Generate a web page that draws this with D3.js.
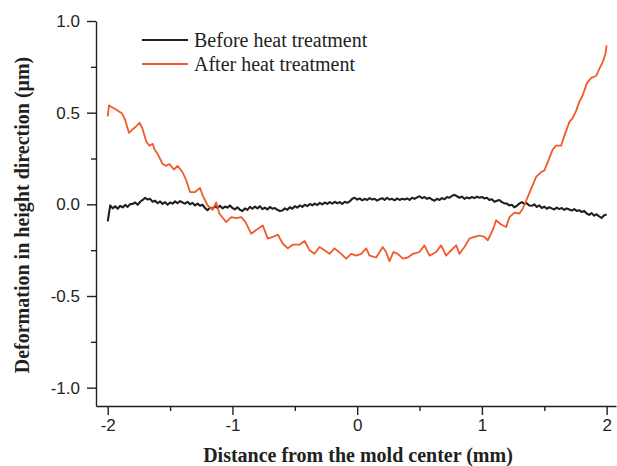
<!DOCTYPE html>
<html>
<head>
<meta charset="utf-8">
<script src="https://cdn.jsdelivr.net/npm/d3@7.9.0/dist/d3.min.js"></script>
<style>
  body { margin: 0; background: #fff; }
  .tick text { font-family: "Liberation Sans", Arial, sans-serif; font-size: 17px; fill: #231f20; }
  .title { font-family: "Liberation Serif", "Times New Roman", serif; font-weight: bold; font-size: 20px; fill: #231f20; }
  .legend text { font-family: "Liberation Serif", "Times New Roman", serif; font-size: 20px; fill: #231f20; }
</style>
</head>
<body>
<svg id="chart" width="617" height="466"></svg>
<script>
// ticks
const xTicks = [-2, -1, 0, 1, 2];
const xMinor = [-1.5, -0.5, 0.5, 1.5];
const yTicks = [-1.0, -0.5, 0.0, 0.5, 1.0];
const yMinor = [-0.75, -0.25, 0.25, 0.75];

// before heat treatment: sampled every 0.02 mm from -2 to 2
const beforeStart = -2, beforeStep = 0.02;
const beforeY = [
  -0.093, -0.006, -0.022, -0.010, -0.024, -0.008, -0.017, -0.003, -0.014, 0.001,
  0.002, 0.010, -0.002, 0.014, 0.024, 0.036, 0.026, 0.030, 0.014, 0.020,
  0.006, 0.016, 0.002, 0.012, -0.002, 0.010, 0.004, 0.016, 0.006, 0.018,
  0.010, 0.004, 0.014, 0.000, 0.008, -0.006, 0.004, -0.008, -0.002, -0.020,
  -0.032, -0.018, -0.024, -0.010, -0.020, -0.008, -0.022, -0.012, -0.018, -0.006,
  -0.020, -0.028, -0.016, -0.030, -0.036, -0.022, -0.030, -0.014, -0.024, -0.012,
  -0.022, -0.010, -0.026, -0.018, -0.028, -0.014, -0.024, -0.020, -0.030, -0.036,
  -0.034, -0.022, -0.030, -0.016, -0.024, -0.010, -0.018, -0.006, -0.014, -0.002,
  -0.010, 0.002, -0.006, 0.004, -0.004, 0.008, 0.000, 0.010, 0.002, 0.012,
  0.004, 0.014, 0.006, 0.012, 0.002, 0.014, 0.008, 0.016, 0.030, 0.036,
  0.026, 0.032, 0.022, 0.030, 0.024, 0.034, 0.026, 0.030, 0.020, 0.028,
  0.034, 0.024, 0.036, 0.026, 0.030, 0.022, 0.032, 0.024, 0.030, 0.026,
  0.032, 0.024, 0.036, 0.030, 0.038, 0.044, 0.034, 0.040, 0.030, 0.036,
  0.026, 0.020, 0.030, 0.024, 0.034, 0.028, 0.040, 0.036, 0.046, 0.052,
  0.044, 0.036, 0.042, 0.030, 0.038, 0.032, 0.040, 0.034, 0.042, 0.036,
  0.040, 0.032, 0.036, 0.024, 0.028, 0.014, 0.020, 0.024, 0.012, 0.006,
  0.004, -0.006, -0.002, -0.016, -0.008, 0.004, 0.012, 0.002, 0.006, -0.006,
  -0.008, 0.000, -0.014, -0.006, -0.020, -0.012, -0.024, -0.016, -0.022, -0.028,
  -0.018, -0.026, -0.020, -0.030, -0.022, -0.028, -0.034, -0.026, -0.036, -0.032,
  -0.042, -0.036, -0.050, -0.058, -0.048, -0.062, -0.054, -0.066, -0.074, -0.060, -0.056
];

// after heat treatment
const afterX = [
  -2.00, -1.99, -1.98, -1.94, -1.885, -1.86, -1.83, -1.80, -1.78, -1.745,
  -1.72, -1.69, -1.665, -1.64, -1.625, -1.60, -1.56, -1.53, -1.505, -1.47,
  -1.44, -1.40, -1.37, -1.34, -1.30, -1.26, -1.24, -1.20, -1.16, -1.13,
  -1.105, -1.05, -1.01, -0.97, -0.93, -0.895, -0.85, -0.81, -0.757, -0.717,
  -0.677, -0.636, -0.596, -0.556, -0.516, -0.463, -0.422, -0.382, -0.342, -0.302,
  -0.262, -0.222, -0.182, -0.128, -0.088, -0.048, -0.008, 0.032, 0.072, 0.099,
  0.152, 0.205, 0.232, 0.259, 0.291, 0.325, 0.366, 0.406, 0.446, 0.499,
  0.539, 0.580, 0.633, 0.673, 0.713, 0.740, 0.794, 0.820, 0.860, 0.900,
  0.940, 0.980, 1.020, 1.047, 1.087, 1.114, 1.154, 1.194, 1.221, 1.261,
  1.301, 1.327, 1.355, 1.395, 1.435, 1.475, 1.501, 1.528, 1.568, 1.595,
  1.635, 1.662, 1.702, 1.728, 1.755, 1.782, 1.808, 1.841, 1.876, 1.916,
  1.942, 1.969, 1.990, 2.00
];
const afterY = [
  0.48, 0.54, 0.535, 0.52, 0.495, 0.46, 0.39, 0.41, 0.42, 0.445,
  0.41, 0.34, 0.32, 0.33, 0.30, 0.275, 0.22, 0.21, 0.22, 0.19,
  0.21, 0.175, 0.13, 0.067, 0.067, 0.09, 0.05, -0.005, -0.03, 0.01,
  -0.05, -0.097, -0.07, -0.075, -0.07, -0.097, -0.16, -0.14, -0.115, -0.187,
  -0.178, -0.165, -0.215, -0.24, -0.22, -0.22, -0.20, -0.25, -0.27, -0.233,
  -0.25, -0.27, -0.24, -0.27, -0.296, -0.27, -0.28, -0.27, -0.24, -0.28,
  -0.29, -0.233, -0.26, -0.31, -0.26, -0.27, -0.296, -0.29, -0.27, -0.26,
  -0.224, -0.28, -0.26, -0.224, -0.28, -0.26, -0.224, -0.27, -0.233, -0.187,
  -0.178, -0.17, -0.178, -0.196, -0.14, -0.087, -0.11, -0.124, -0.07, -0.045,
  -0.05, -0.024, 0.02, 0.086, 0.15, 0.176, 0.185, 0.23, 0.30, 0.32,
  0.32, 0.376, 0.45, 0.47, 0.51, 0.56, 0.595, 0.66, 0.69, 0.70,
  0.74, 0.776, 0.82, 0.867
];

const series = [
  { name: 'Before heat treatment', color: '#231f20', width: 2.1,
    points: beforeY.map((v, i) => [beforeStart + i * beforeStep, v]) },
  { name: 'After heat treatment', color: '#f15a29', width: 1.8,
    points: afterX.map((x, i) => [x, afterY[i]]) }
];

const svg = d3.select('#chart');

const x = d3.scaleLinear().domain([-2.094, 2.075]).range([96, 616]);
const y = d3.scaleLinear().domain([-1.1, 1.0]).range([406, 21]);

// axes
const axisColor = '#231f20';

svg.append('g').attr('transform', 'translate(0,406)')
  .call(d3.axisBottom(x).tickValues(xTicks).tickSize(9).tickPadding(4)
          .tickFormat(d => String(d)).tickSizeOuter(0));
svg.append('g').attr('transform', 'translate(0,406)')
  .call(d3.axisBottom(x).tickValues(xMinor).tickSize(5).tickFormat('').tickSizeOuter(0))
  .select('.domain').remove();

svg.append('g').attr('transform', 'translate(96,0)')
  .call(d3.axisLeft(y).tickValues(yTicks).tickSize(9).tickPadding(7)
          .tickFormat(d => d.toFixed(1)).tickSizeOuter(0));
svg.append('g').attr('transform', 'translate(96,0)')
  .call(d3.axisLeft(y).tickValues(yMinor).tickSize(5).tickFormat('').tickSizeOuter(0))
  .select('.domain').remove();

svg.selectAll('.domain, .tick line')
  .attr('stroke', axisColor).attr('stroke-width', 1.4);

// lines
const line = d3.line().x(d => x(d[0])).y(d => y(d[1]));

svg.selectAll('path.series')
  .data(series)
  .join('path')
    .attr('class', 'series')
    .attr('fill', 'none')
    .attr('stroke', d => d.color)
    .attr('stroke-width', d => d.width)
    .attr('stroke-linejoin', 'round')
    .attr('d', d => line(d.points));

// legend
const legend = svg.append('g').attr('class', 'legend');
const items = legend.selectAll('g')
  .data(series)
  .join('g')
    .attr('transform', (_, i) => `translate(142,${40 + i * 24})`);
items.append('line')
  .attr('x1', 0).attr('x2', 46)
  .attr('stroke', d => d.color).attr('stroke-width', 1.8);
items.append('text')
  .attr('x', 52).attr('y', 7)
  .text(d => d.name);

// titles
svg.append('text').attr('class', 'title')
  .attr('x', 358).attr('y', 462).attr('text-anchor', 'middle')
  .text('Distance from the mold center (mm)');
svg.append('text').attr('class', 'title')
  .attr('transform', 'translate(29,215) rotate(-90)')
  .attr('text-anchor', 'middle')
  .text('Deformation in height direction (μm)');
</script>
</body>
</html>
